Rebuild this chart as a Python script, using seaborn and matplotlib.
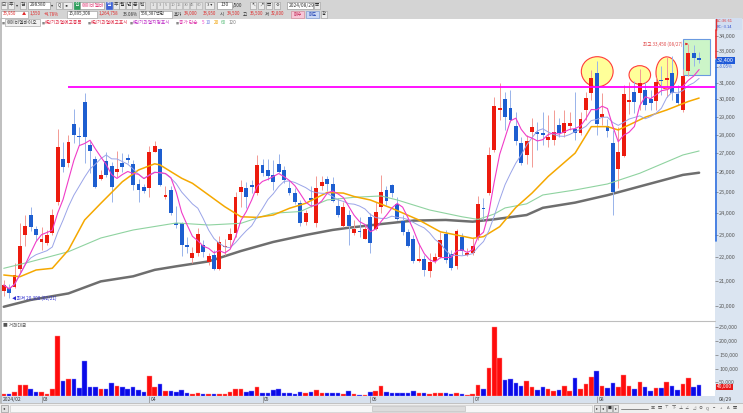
import numpy as np
import pandas as pd
import matplotlib
matplotlib.use("Agg")
import matplotlib.pyplot as plt
import matplotlib.transforms as mtransforms
import seaborn as sns
from matplotlib.patches import Rectangle, Ellipse
from matplotlib.lines import Line2D

# ============================================================
# DATA – 에이비엘바이오 (298380) 일봉, 2024/02 ~ 2024/08/29
# ============================================================
opens = [20600, 20720, 20770, 21500, 22990, 23910, 23260, 22680, 22650, 23060,
         24550, 26710, 26460, 28600, 27900, 29830, 27420, 26670, 25640, 26580,
         26330, 26000, 26460, 26720, 26410, 25400, 25270, 25220, 27080, 27220,
         24790, 25120, 23560, 23520, 22530, 21980, 22180, 22540, 21800, 22120,
         21500, 22440, 22770, 23060, 25030, 25200, 25300, 24950, 26380, 26120,
         25870, 26430, 26120, 25220, 24950, 24500, 23600, 24670, 23520, 25290,
         25640, 25400, 24360, 23400, 23910, 23060, 23170, 22810, 23830, 23260,
         24280, 25120, 25350, 24430, 23630, 23140, 22820, 21860, 21930, 21430,
         21860, 22030, 23030, 22140, 21650, 22890, 22110, 22180, 22840, 24240,
         24990, 27170, 29400, 30010, 29510, 28460, 27530, 26900, 28160, 28100,
         28070, 27710, 27710, 28530, 28070, 28480, 28330, 28100, 29390, 30370,
         31570, 28980, 28490, 27560, 26150, 26870, 29850, 30430, 30360, 30560,
         30010, 29920, 31170, 31170, 31600, 30310, 29390, 31740, 32880, 32530]
highs = [21050, 20880, 21750, 23530, 23910, 24280, 23400, 23370, 23220, 24210,
         28290, 27610, 27980, 29430, 28440, 30400, 27660, 26850, 26120, 27080,
         26550, 27110, 27020, 26960, 26640, 25640, 25410, 27380, 27660, 27260,
         25290, 25320, 24360, 23600, 22920, 22470, 23300, 22770, 22180, 22320,
         22940, 22790, 23300, 25030, 25610, 25530, 25610, 26900, 26670, 26670,
         26640, 26960, 26330, 25610, 25220, 24630, 24150, 25290, 25790, 25790,
         25790, 25750, 24700, 24510, 24150, 23680, 23830, 23490, 23990, 24510,
         25870, 25320, 25410, 24780, 23910, 23260, 22990, 22620, 22110, 22180,
         22180, 23140, 23220, 22320, 23260, 23090, 22410, 22840, 24810, 24700,
         27340, 30170, 30980, 30470, 30560, 29290, 27840, 27980, 28910, 28720,
         29290, 29110, 29390, 28930, 29390, 29290, 30420, 29290, 30470, 31790,
         32330, 30360, 28870, 28250, 28440, 30850, 31050, 31130, 31870, 31050,
         30560, 31370, 32050, 32700, 32700, 30850, 31870, 33450, 33390, 32950]
lows = [20400, 20300, 20720, 21380, 22510, 23170, 22770, 22320, 22540, 22990,
        24390, 26030, 26290, 27530, 27430, 26460, 25970, 25220, 25610, 25780,
        24540, 25780, 26030, 26460, 25120, 24550, 24950, 24780, 27080, 25290,
        24690, 23910, 23300, 22060, 22180, 21770, 22060, 22030, 21680, 21470,
        21470, 22110, 22470, 22920, 24300, 24230, 24950, 24870, 25790, 25610,
        25120, 25960, 25440, 24870, 24450, 23400, 23450, 24300, 23370, 25120,
        25060, 24540, 23830, 23370, 22540, 22990, 22880, 22790, 22180, 23220,
        23990, 24390, 24780, 23680, 22990, 22470, 21770, 21820, 21210, 21180,
        21750, 21990, 21770, 21470, 21510, 22110, 22060, 22110, 22770, 23680,
        24870, 27080, 28810, 28250, 28720, 27430, 26380, 26410, 26260, 27160,
        27430, 27350, 27430, 27840, 27840, 28250, 27710, 27980, 28840, 29970,
        27980, 28530, 27840, 23930, 25190, 26800, 29150, 29240, 29390, 29390,
        29390, 29390, 30260, 30160, 29970, 29680, 29290, 31420, 32050, 32200]
closes = [20840, 20530, 21240, 22500, 23410, 23340, 22990, 22790, 22990, 23930,
          27310, 26250, 27610, 27980, 27850, 27880, 27130, 25270, 25870, 25870,
          25270, 26180, 26250, 26640, 25360, 25090, 25070, 27080, 27360, 25360,
          24830, 24020, 23430, 22540, 22470, 22200, 23030, 22220, 22060, 21500,
          22680, 22510, 23030, 24780, 25270, 24790, 25280, 26380, 25990, 25790,
          25490, 26040, 25610, 24990, 24510, 23520, 24020, 24630, 25200, 25520,
          25400, 24590, 23910, 24300, 23400, 23280, 23120, 23260, 22620, 24030,
          25020, 24590, 24950, 23710, 23140, 22500, 21830, 21890, 21480, 21800,
          22030, 22770, 21890, 21540, 23170, 22300, 22180, 22500, 24420, 24180,
          26900, 29640, 29510, 28970, 28820, 27640, 26500, 27660, 28420, 28040,
          27990, 27880, 28150, 28070, 28670, 28670, 28100, 28890, 30100, 31310,
          28570, 29150, 28210, 25040, 27080, 30340, 29970, 29820, 30980, 29680,
          29780, 31070, 31090, 31250, 30380, 29790, 31430, 32890, 32550, 32400]
# 거래대금 (백만)
volumes = [6000, 6000, 13000, 39000, 40000, 26000, 15000, 15000, 9000, 24000,
           220000, 55000, 63000, 62000, 30000, 126000, 33000, 33000, 27000, 26000,
           49000, 35000, 32000, 27000, 34000, 22000, 16000, 72000, 33000, 44000,
           18000, 17000, 15000, 22000, 12000, 7000, 11000, 9000, 7000, 7000,
           7000, 7000, 13000, 26000, 26000, 13000, 17000, 34000, 10000, 10000,
           22000, 26000, 12000, 10000, 9000, 13000, 10000, 15000, 23000, 12000,
           10000, 10000, 10000, 7000, 18000, 6000, 5000, 5000, 13000, 20000,
           35000, 13000, 12000, 12000, 11000, 11000, 18000, 10000, 10000, 9000,
           10000, 11000, 12000, 9000, 12000, 7000, 5000, 9000, 39000, 26000,
           101000, 251000, 140000, 59000, 61000, 48000, 37000, 55000, 34000, 23000,
           33000, 26000, 18000, 21000, 35000, 18000, 65000, 26000, 45000, 70000,
           92000, 38000, 28000, 48000, 33000, 76000, 37000, 27000, 52000, 33000,
           20000, 29000, 28000, 50000, 35000, 22000, 44000, 67000, 33000, 40000]

# moving averages (20 / 60 / 120 need history before 02/21)
ma20_idx = [0, 3, 6, 9, 12, 15, 18, 22, 25, 28, 29, 31, 33, 35, 38, 41, 44, 47, 50, 53, 56,
            60, 63, 65, 68, 72, 77, 81, 84, 87, 89, 92, 95, 98, 101, 106, 109, 112, 114,
            116, 119, 123, 127, 129]
ma20_val = [21255, 21184, 21465, 21536, 22324, 23679, 24466, 25525, 26121, 26440, 26379,
            26035, 25700, 25447, 24870, 24304, 23829, 23801, 23912, 24228, 24466, 24992,
            24962, 24795, 24627, 24228, 23679, 23135, 22991, 22842, 22917, 23369, 24270,
            24962, 25790, 27000, 28440, 28440, 28255, 28534, 28970, 29386, 29880, 30080]
ma60_idx = [0, 5, 12, 18, 24, 32, 38, 44, 47, 50, 55, 57, 60, 65, 70, 73, 79, 85, 88, 91,
            93, 97, 100, 106, 112, 118, 126, 129]
ma60_val = [21536, 21817, 22250, 22856, 23218, 23539, 23447, 23525, 23771, 23996, 24074,
            24303, 24627, 24757, 24822, 24627, 24148, 23829, 23705, 23958, 24245, 24440,
            24870, 25115, 25413, 25954, 26902, 27113]
ma120_idx = [0, 5, 12, 18, 24, 28, 32, 38, 44, 50, 56, 61, 64, 70, 76, 82, 87, 91, 97, 100,
             106, 112, 118, 126, 129]
ma120_val = [19970, 20240, 20500, 20990, 21200, 21470, 21620, 21830, 22280, 22680, 22990,
             23220, 23320, 23490, 23650, 23680, 23600, 23710, 23910, 24250, 24500, 24860,
             25290, 25870, 25980]

month_pos = [7, 27, 48, 68, 87, 110]
month_labels = ["03", "04", "05", "06", "07", "08"]
first_label = "2024/02"
last_label = "08/29"

price_ticks = [20000, 21000, 22000, 23000, 24000, 25000, 26000, 27000,
               28000, 29000, 30000, 31000, 32000, 33000, 34000]
vol_ticks = [50000, 100000, 150000, 200000, 250000]

resistance = 30760
res_start = 11.9
high_idx, high_date = 127, "08/27"
low_idx, low_date = 1, "02/21"
change_pct = "-3.05%"

# ============================================================
# STYLE / FIGURE
# ============================================================
sns.set_style("white")
plt.rcParams["font.family"] = ["Noto Sans CJK KR", "DejaVu Sans"]
plt.rcParams["axes.unicode_minus"] = False

W, H = 743, 413
fig = plt.figure(figsize=(W / 100, H / 100), dpi=100)

RED, BLUE = "#ec1b0e", "#1d5ed0"
RED_W, BLUE_W = "#f39a94", "#98b3ea"
TXT_RED = "#e02a2a"


def px_axes(x0, y0, x1, y1):
    return fig.add_axes([x0 / W, 1 - y1 / H, (x1 - x0) / W, (y1 - y0) / H])


def fbox(x0, y0, x1, y1, fc, ec="none", lw=0.5, z=-1):
    fig.add_artist(Rectangle((x0 / W, 1 - y1 / H), (x1 - x0) / W, (y1 - y0) / H,
                             transform=fig.transFigure, fc=fc, ec=ec, lw=lw, zorder=z))


def ftext(x, y, s, size=3.5, color="#333333", ha="left", **kw):
    fig.text(x / W, 1 - y / H, s, fontsize=size, color=color, ha=ha, va="center", **kw)


def fline(x0, y0, x1, y1, color, lw=0.8, z=5):
    fig.add_artist(Line2D([x0 / W, x1 / W], [1 - y0 / H, 1 - y1 / H],
                          transform=fig.transFigure, color=color, lw=lw, zorder=z))


# ============================================================
# TOOLBAR (top)
# ============================================================
fbox(0, 0, W, 18.5, "#d4d4d4")
btn = dict(fc="#ececec", ec="#9a9a9a", lw=0.4, z=1)
fbox(1, 1.5, 7, 8.5, **btn); ftext(4, 5, "⊟", ha="center", size=3.5)
fbox(8, 1.5, 14, 8.5, **btn); ftext(11, 5, "주", ha="center")
ftext(16, 5, "▾", size=3)
fbox(20, 1.5, 26, 8.5, **btn); ftext(23, 5, "검", ha="center")
fbox(28, 1.5, 50, 8.5, fc="white", ec="#888888", lw=0.4, z=1); ftext(30, 5, "298380")
ftext(51, 5, "▾", size=3)
fbox(56, 1.5, 62, 8.5, **btn); ftext(59, 5, "Q", ha="center", size=3.2)
fbox(63, 1.5, 72, 8.5, **btn); ftext(67.5, 5, "◂▸", ha="center", size=3)
fbox(74, 1.5, 80, 8.5, fc="#2e9e5b", ec="#2e9e5b", z=1); ftext(77, 5, "신", ha="center", color="white")
fbox(80, 1.5, 104, 8.5, fc="white", ec="#888888", lw=0.4, z=1); ftext(81.5, 5, "에이비엘바", color="#e0407a")
fbox(106, 1.5, 112, 8.5, fc="#3f63d6", ec="#3f63d6", z=1); ftext(109, 5, "일", ha="center", color="white")
for k, s in enumerate(["주", "월", "년", "분", "틱"]):
    fbox(112.5 + k * 6.5, 1.5, 118.5 + k * 6.5, 8.5, **btn)
    ftext(115.5 + k * 6.5, 5, s, ha="center")
for k, s in enumerate(["1", "3", "5", "10", "15", "30", "45", "60"]):
    fbox(150 + k * 6.6, 1.5, 156 + k * 6.6, 8.5, fc="#e4e4e4", ec="#b0b0b0", lw=0.4, z=1)
    ftext(153 + k * 6.6, 5, s, ha="center", size=3, color="#888888")
fbox(205, 1.5, 214, 8.5, **btn); ftext(209.5, 5, "3 ▾", ha="center", size=3)
fbox(217, 1.5, 232, 8.5, fc="white", ec="#888888", lw=0.4, z=1); ftext(224.5, 5, "130", ha="center")
ftext(233, 5, "/500", size=3.3)
for k in range(4):
    fbox(250 + k * 8, 1.5, 256 + k * 8, 8.5, **btn)
ftext(253, 5, "↖", ha="center", size=3); ftext(261, 5, "↗", ha="center", size=3)
ftext(269, 5, "▤", ha="center", size=3); ftext(277, 5, "⚙", ha="center", size=3)
fbox(287, 1.5, 313, 8.5, fc="white", ec="#888888", lw=0.4, z=1); ftext(289, 5, "2024/08/29")
fbox(314, 1.5, 320, 8.5, **btn); ftext(317, 5, "▦", ha="center", size=3)

fbox(1, 10.5, 28, 17.5, fc="white", ec="#999999", lw=0.4, z=1)
ftext(3, 14, "33,950", color=TXT_RED, size=3.2); ftext(22, 14, "▲", color=TXT_RED, size=3)
ftext(30, 14, "1,550", color=TXT_RED, size=3.2); ftext(44, 14, "+4.78%", color=TXT_RED, size=3.2)
fbox(67, 10.5, 97, 17.5, fc="white", ec="#999999", lw=0.4, z=1); ftext(69, 14, "15,895,308", size=3.2)
ftext(98.5, 14, "1,264,758", color=TXT_RED, size=3.2); ftext(122.5, 14, "33.08%", size=3.2)
fbox(138.5, 10.5, 172, 17.5, fc="white", ec="#999999", lw=0.4, z=1); ftext(140.5, 14, "556,387백만", size=3.2)
ftext(174, 14, "호가", size=3.2); ftext(184, 14, "34,000", color=TXT_RED, size=3.2)
ftext(203, 14, "33,950", color=TXT_RED, size=3.2)
ftext(220, 14, "시", size=3.2); ftext(227, 14, "34,500", color=TXT_RED, size=3.2)
ftext(243, 14, "고", size=3.2); ftext(250, 14, "36,500", color=TXT_RED, size=3.2)
ftext(265, 14, "저", size=3.2); ftext(271, 14, "32,800", color=TXT_RED, size=3.2)
fbox(291, 10.5, 304, 17.5, fc="#f6c6d6", ec="#d08090", lw=0.4, z=1); ftext(297.5, 14, "매수", ha="center", color="#c02050", size=3.2)
fbox(306, 10.5, 319, 17.5, fc="#c8d6f4", ec="#7090d0", lw=0.4, z=1); ftext(312.5, 14, "매도", ha="center", color="#2040b0", size=3.2)
fbox(321, 10.5, 327, 17.5, **btn); ftext(324, 14, "촬", ha="center", size=3)

# legend row
ftext(1.5, 22.5, "■", size=2.2, color="#888888")
fbox(5, 19.5, 40, 26, fc="#f2f2f2", ec="#9a9a9a", lw=0.4, z=1)
ftext(6.5, 22.7, "에이비엘바이오", size=3.4, color="#444444")
ftext(42, 22.5, "■", size=2.2, color="#888888")
ftext(45, 22.7, "#단기과열예고종목", size=3.4, color="#e0304a")
ftext(87.5, 22.5, "■", size=2.2, color="#888888")
ftext(91, 22.7, "#단기과열예고표시", size=3.4, color="#e0304a")
ftext(129.5, 22.5, "■", size=2.2, color="#888888")
ftext(133, 22.7, "#단기과열지정표시", size=3.4, color="#c030c8")
ftext(175.5, 22.5, "■", size=2.2, color="#888888")
ftext(179, 22.7, "종가 단순", size=3.4, color="#e040b0")
ftext(201.5, 22.7, "5", size=3.4, color="#f03cc8")
ftext(206, 22.7, "10", size=3.4, color="#7080e0")
ftext(213.5, 22.7, "20", size=3.4, color="#f0a000")
ftext(221, 22.7, "60", size=3.4, color="#60c080")
ftext(228.5, 22.7, "120", size=3.4, color="#808080")

# right strip, date strip, bottom bar
fbox(715, 18.5, W, 403, "#dbe5f1")
fbox(715, 18.5, 742, 29.5, fc="#d2def0", z=1)
fline(715.5, 18.5, 715.5, 29.5, "#e03030", lw=1)
ftext(717, 21.5, "LC:36.61", size=2.9, color="#e03030")
ftext(717, 26.5, "RC:-3.14", size=2.9, color="#3050d0")
fline(0.7, 18.5, 0.7, 403, "#b4b4b4", lw=1.2)
fline(0, 321, 715, 321, "#bdbdbd", lw=0.8)
fbox(0, 396, 715, 403, "#d7e1ed")
fline(0, 403.3, W, 403.3, "#a8a8a8", lw=0.5)
fbox(0, 403.5, W, 413, "#efefef")
fbox(1, 405, 8, 411.5, fc="#e2e2e2", ec="#888888", lw=0.4, z=1); ftext(4.5, 408.2, "◂", ha="center", size=3)
fbox(10, 405, 592, 411.5, fc="#f7f7f7", ec="#c4c4c4", lw=0.4, z=1)
fbox(372, 405.5, 465, 411, fc="#dcdcdc", ec="#b8b8b8", lw=0.4, z=1)
for k, s in enumerate(["▸", "◂", "■", "▸"]):
    fbox(594 + k * 6.3, 405, 599.5 + k * 6.3, 411.5, fc="#e6e6e6", ec="#888888", lw=0.4, z=1)
    ftext(596.8 + k * 6.3, 408.2, s, ha="center", size=2.8)
fline(621, 408.5, 648, 408.5, "#777777", lw=0.6)
for k, s in enumerate(["▣", "▤", "⊤", "下", "⊥", "∠", "◿", "⊘", "Q", "−", "+", "A", "▦"]):
    ftext(653 + k * 6.8, 408.2, s, ha="center", size=3, color="#555555")

# ============================================================
# PRICE PANEL
# ============================================================
idx = np.arange(len(closes))
o = np.array(opens, dtype=float)
c = np.array(closes, dtype=float)
up = c >= o
body_bottom = np.minimum(o, c)
body_height = np.maximum(np.abs(c - o), body_bottom * 0.003)

ax = px_axes(2, 30, 715, 320)
ax.set_yscale("log")
ax.set_xlim(-0.33, 131.95)
ax.set_ylim(19458, 34380)
ax.patch.set_alpha(0)

# annotation shapes (yellow circles, green box)
for cx, cy, ew, eh in [(110.1, 31690, 5.9, 1870), (118.0, 31480, 4.0, 1150), (123.0, 31620, 4.0, 1990)]:
    ax.add_patch(Ellipse((cx, cy), ew, eh, fc="#ffff99", ec="#ff3a3a", lw=0.8, zorder=1))
ax.add_patch(Rectangle((126.1, 31476), 4.9, 2284, fc="#ccf5c8", ec="#6a9ae0", lw=0.8, zorder=1))

ax.vlines(idx, lows, highs, colors=np.where(up, RED_W, BLUE_W), linewidth=0.7, zorder=3)
ax.bar(idx, body_height, bottom=body_bottom, width=0.72,
       color=np.where(up, RED, BLUE), linewidth=0, zorder=4)

s = pd.Series(closes, dtype=float)
ma5 = s.rolling(5, min_periods=1).mean()
ma10 = s.rolling(10, min_periods=1).mean()
sns.lineplot(x=ma120_idx, y=ma120_val, ax=ax, color="#6e6e6e", linewidth=1.8, zorder=2)
sns.lineplot(x=ma60_idx, y=ma60_val, ax=ax, color="#8fd3a0", linewidth=0.8, zorder=5)
sns.lineplot(x=ma20_idx, y=ma20_val, ax=ax, color="#f5a800", linewidth=1.1, zorder=5)
sns.lineplot(x=idx, y=ma10, ax=ax, color="#9aa4e8", linewidth=0.7, zorder=5)
sns.lineplot(x=idx, y=ma5, ax=ax, color="#f03cc8", linewidth=0.8, zorder=5)

ax.hlines(resistance, res_start, 131.95, color="#ff00ff", linewidth=1.3, zorder=6)

ax.annotate(f"최고 {highs[high_idx]:,} ({high_date})", xy=(high_idx, highs[high_idx]),
            xytext=(125.9, highs[high_idx]), ha="right", va="center", fontsize=3.3,
            color="#e04848", arrowprops=dict(arrowstyle="-|>", color="#e03030", lw=0.6,
                                             mutation_scale=3), zorder=7)
ax.text(low_idx + 0.6, lows[low_idx], f"◀최저 {lows[low_idx]:,} ({low_date})",
        ha="left", va="center", fontsize=3.3, color="#2a2ad0", zorder=7)

ax.yaxis.tick_right()
ax.yaxis.set_minor_locator(plt.NullLocator())
ax.set_yticks(price_ticks)
# 32,000 sits under the current-price box, as in the terminal
ax.set_yticklabels(["" if t == 32000 else f"{t:,}" for t in price_ticks])
ax.tick_params(axis="y", length=2, width=0.5, color="#777777", pad=1,
               labelsize=4, labelcolor="#5a5a5a")
ax.set_xticks([])
ax.set_xlabel("")
ax.set_ylabel("")
for sp in ax.spines.values():
    sp.set_visible(False)

blend = mtransforms.blended_transform_factory(ax.transAxes, ax.transData)
ax.text(1.003, closes[-1], f"{closes[-1]:,}", transform=blend, ha="left", va="center",
        fontsize=4, color="white", clip_on=False, zorder=8,
        bbox=dict(boxstyle="square,pad=0.2", fc="#1f5ad8", ec="none"))
ax.annotate(change_pct, xy=(1.006, closes[-1]), xycoords=blend, xytext=(0, -4.4),
            textcoords="offset points", ha="left", va="center", fontsize=3.1,
            color="#2f5fd8", annotation_clip=False)

# price range marker on the axis edge
fline(715.8, 30, 715.8, 57.5, "#ee3030", lw=1.2)
fline(715.8, 60, 715.8, 241, "#3070e0", lw=1.2)

# ============================================================
# VOLUME PANEL (거래대금)
# ============================================================
axv = px_axes(2, 321, 715, 396)
axv.set_xlim(-0.33, 131.95)
axv.set_ylim(0, 273000)
axv.patch.set_alpha(0)
axv.bar(idx, volumes, width=0.84, color=np.where(up, "#ff0c0c", "#0a0ae8"),
        edgecolor=np.where(up, "#ff8c8c", "#8c8cff"), linewidth=0.3, zorder=3)
axv.yaxis.tick_right()
axv.set_yticks(vol_ticks)
axv.set_yticklabels([f"{t:,}" for t in vol_ticks])
axv.tick_params(axis="y", length=2, width=0.5, color="#777777", pad=1,
                labelsize=3.8, labelcolor="#5a5a5a")
axv.set_xticks([])
for sp in axv.spines.values():
    sp.set_visible(False)
axv.text(1.003, volumes[-1] * 0.82, f"{volumes[-1]:,}", transform=mtransforms.blended_transform_factory(
    axv.transAxes, axv.transData), ha="left", va="center", fontsize=3.5, color="white",
    clip_on=False, zorder=8, bbox=dict(boxstyle="square,pad=0.15", fc="#e81818", ec="none"))
ftext(3, 325.5, "■ 거래대금", size=3.4, color="#555555")

# ============================================================
# DATE STRIP
# ============================================================
axd = px_axes(2, 396, 715, 403)
axd.set_xlim(-0.33, 131.95)
axd.set_ylim(0, 1)
axd.patch.set_alpha(0)
axd.axis("off")
axd.vlines(month_pos, 0, 1, color="#8a8a8a", linewidth=0.5)
for p, lab in zip(month_pos, month_labels):
    axd.text(p + 0.3, 0.5, lab, ha="left", va="center", fontsize=3.6, color="#3a3a3a")
axd.text(-0.1, 0.5, first_label, ha="left", va="center", fontsize=3.6, color="#3a3a3a")
ftext(719, 399.7, last_label, size=3.6, color="#3a3a3a")

fig.savefig("out.png", dpi=100)
